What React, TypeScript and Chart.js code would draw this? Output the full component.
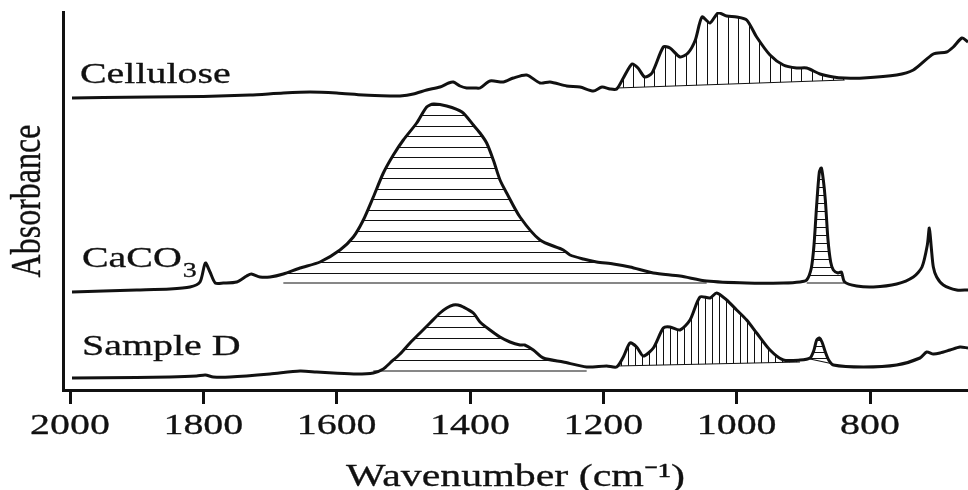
import React, { useEffect, useRef } from "react";
import { Chart, registerables } from "chart.js";

Chart.register(...registerables);

// ---------- data (wavenumber in cm-1, absorbance in arbitrary stacked units) ----------
const celluloseWavenumber = [
  1997, 1950, 1880, 1800, 1730, 1680, 1640, 1600, 1560, 1520, 1505, 1485, 1465, 1445, 1432, 1425,
  1415, 1405, 1393, 1385, 1370, 1350, 1335, 1315, 1295, 1280, 1255, 1235, 1215, 1202, 1190, 1180,
  1170, 1157, 1148, 1138, 1127, 1110, 1100, 1085, 1073, 1062, 1052, 1040, 1028, 1015, 1000, 985,
  970, 950, 930, 910, 895, 875, 855, 838, 810, 760, 735, 705, 685, 675, 662, 653,
];
const celluloseAbsorbance = [
  2.92, 2.925, 2.93, 2.935, 2.95, 2.97, 2.98, 2.97, 2.95, 2.94, 2.94, 2.96, 3.0, 3.03, 3.07, 3.08,
  3.04, 3.02, 3.02, 3.02, 3.09, 3.08, 3.12, 3.15, 3.07, 3.08, 3.04, 3.03, 2.99, 3.03, 3.01, 3.01,
  3.12, 3.26, 3.22, 3.13, 3.17, 3.43, 3.42, 3.33, 3.37, 3.5, 3.73, 3.67, 3.77, 3.74, 3.73, 3.7,
  3.53, 3.35, 3.25, 3.22, 3.22, 3.16, 3.13, 3.12, 3.12, 3.15, 3.2, 3.36, 3.38, 3.43, 3.52, 3.48,
];

const caco3Wavenumber = [
  1997, 1950, 1900, 1850, 1820, 1805, 1797, 1790, 1782, 1770, 1750, 1735, 1728, 1715, 1700, 1680,
  1655, 1625, 1595, 1575, 1560, 1545, 1530, 1515, 1500, 1480, 1465, 1455, 1435, 1412, 1395, 1385,
  1375, 1365, 1355, 1345, 1325, 1295, 1260, 1250, 1230, 1210, 1185, 1160, 1125, 1085, 1045, 985,
  930, 905, 895, 888, 884, 880, 876, 873, 870, 867, 863, 859, 855, 848, 843, 838,
  820, 795, 760, 735, 722, 714, 711, 708, 705, 700, 690, 670, 653,
];
const caco3Absorbance = [
  0.98, 0.99, 1.0, 1.01, 1.03, 1.08, 1.27, 1.18, 1.07, 1.07, 1.08, 1.14, 1.16, 1.13, 1.13, 1.16,
  1.22, 1.28, 1.4, 1.53, 1.7, 1.93, 2.17, 2.35, 2.5, 2.67, 2.83, 2.86, 2.84, 2.78, 2.65, 2.57,
  2.47, 2.3, 2.1, 1.97, 1.73, 1.5, 1.4, 1.35, 1.31, 1.28, 1.26, 1.23, 1.17, 1.14, 1.09, 1.07,
  1.07, 1.08, 1.1, 1.22, 1.45, 1.85, 2.18, 2.22, 2.1, 1.9, 1.5, 1.28, 1.2, 1.17, 1.18, 1.08,
  1.04, 1.03, 1.06, 1.13, 1.23, 1.45, 1.62, 1.42, 1.23, 1.13, 1.05, 1.0, 1.0,
];

const sampleDWavenumber = [
  1997, 1900, 1850, 1810, 1797, 1785, 1760, 1700, 1655, 1630, 1605, 1570, 1545, 1530, 1520, 1505,
  1490, 1475, 1460, 1445, 1435, 1425, 1418, 1410, 1395, 1385, 1370, 1355, 1340, 1325, 1318, 1305,
  1290, 1260, 1225, 1195, 1180, 1170, 1160, 1150, 1140, 1125, 1110, 1100, 1085, 1070, 1055, 1040,
  1030, 1015, 1000, 985, 970, 950, 930, 905, 890, 884, 880, 876, 872, 867, 862, 855,
  810, 760, 725, 715, 705, 695, 680, 665, 653,
];
const sampleDAbsorbance = [
  0.12, 0.125, 0.13, 0.14, 0.15, 0.13, 0.13, 0.16, 0.19, 0.18, 0.17, 0.16, 0.17, 0.21, 0.27, 0.36,
  0.47, 0.57, 0.67, 0.77, 0.82, 0.85, 0.85, 0.83, 0.77, 0.68, 0.6, 0.53, 0.48, 0.45, 0.45, 0.4,
  0.32, 0.28, 0.23, 0.24, 0.23, 0.33, 0.47, 0.43, 0.34, 0.42, 0.62, 0.63, 0.6, 0.7, 0.93, 0.92,
  0.97, 0.9, 0.8, 0.7, 0.57, 0.4, 0.3, 0.3, 0.32, 0.4, 0.5, 0.52, 0.48, 0.38, 0.3, 0.25,
  0.23, 0.25, 0.32, 0.38, 0.36, 0.37, 0.4, 0.43, 0.42,
];

const seriesNames = ["Cellulose", "CaCO3", "Sample D"];
const tickValues = [2000, 1800, 1600, 1400, 1200, 1000, 800];

// hatched integration regions: series index, wavenumber range, baseline absorbance at both ends
const hatchRegions = [
  { series: 0, from: 1180, to: 838, base: [3.02, 3.1], dir: "v", spacing: 10.5 },
  { series: 1, from: 1680, to: 1045, base: [1.07, 1.07], dir: "h", spacing: 10.5 },
  { series: 1, from: 895, to: 838, base: [1.07, 1.07], dir: "h", spacing: 8 },
  { series: 2, from: 1545, to: 1225, base: [0.19, 0.19], dir: "h", spacing: 11 },
  { series: 2, from: 1180, to: 905, base: [0.24, 0.28], dir: "v", spacing: 7 },
  { series: 2, from: 890, to: 855, base: [0.31, 0.26], dir: "h", spacing: 6 },
];

const INK = "#111";
const SERIF = '"Liberation Serif", "Times New Roman", serif';
const TEXT_STRETCH = 1.33;

function toPoints(wn: number[], ab: number[]) {
  return wn.map((w, i) => ({ x: w, y: ab[i] }));
}

// text in the reference is horizontally widened; widen every glyph run about its anchor
const stretchTextPlugin = {
  id: "stretchText",
  beforeDraw(chart: any) {
    const ctx: any = chart.ctx;
    if (ctx.__origFillText) return;
    const orig = ctx.fillText;
    ctx.__origFillText = orig;
    ctx.fillText = function (text: string, x: number, y: number, maxWidth?: number) {
      const m = this.getTransform();
      const p = m.transformPoint(new DOMPoint(x, y));
      const s = new DOMMatrix()
        .translate(p.x, p.y)
        .scale(TEXT_STRETCH, 1)
        .translate(-p.x, -p.y)
        .multiply(m);
      this.setTransform(s);
      if (maxWidth !== undefined) orig.call(this, text, x, y, maxWidth * 2);
      else orig.call(this, text, x, y);
      const lw = this.lineWidth;
      const ss = this.strokeStyle;
      const lj = this.lineJoin;
      this.lineWidth = 0.3;
      this.strokeStyle = this.fillStyle;
      this.lineJoin = "round";
      this.strokeText(text, x, y);
      this.lineWidth = lw;
      this.strokeStyle = ss;
      this.lineJoin = lj;
      this.setTransform(m);
    };
  },
  afterDraw(chart: any) {
    const ctx: any = chart.ctx;
    if (ctx.__origFillText) {
      ctx.fillText = ctx.__origFillText;
      delete ctx.__origFillText;
    }
  },
};

const hatchPlugin = {
  id: "hatch",
  beforeDatasetsDraw(chart: any) {
    const ctx: CanvasRenderingContext2D = chart.ctx;
    const xs = chart.scales.x;
    const ys = chart.scales.y;
    for (const r of hatchRegions) {
      const ds = chart.data.datasets[r.series];
      const data = ds.data as { x: number; y: number }[];
      const i0 = data.findIndex((p) => p.x <= r.from);
      let i1 = -1;
      for (let i = 0; i < data.length; i++) if (data[i].x >= r.to) i1 = i;
      if (i0 < 0 || i1 <= i0) continue;
      const meta = chart.getDatasetMeta(r.series);
      const line = meta.dataset;
      const xa = xs.getPixelForValue(data[i0].x);
      const xb = xs.getPixelForValue(data[i1].x);
      const ya = ys.getPixelForValue(r.base[0]);
      const yb = ys.getPixelForValue(r.base[1]);

      ctx.save();
      ctx.beginPath();
      let ok = false;
      try {
        line.path(ctx, i0, i1 - i0 + 1);
        ok = true;
      } catch (e) {
        ok = false;
      }
      if (!ok) {
        ctx.beginPath();
        for (let i = i0; i <= i1; i++) {
          const px = xs.getPixelForValue(data[i].x);
          const py = ys.getPixelForValue(data[i].y);
          if (i === i0) ctx.moveTo(px, py);
          else ctx.lineTo(px, py);
        }
      }
      ctx.lineTo(xb, yb);
      ctx.lineTo(xa, ya);
      ctx.closePath();
      ctx.clip();

      ctx.strokeStyle = INK;
      ctx.lineWidth = 1;
      ctx.beginPath();
      const top = chart.chartArea.top;
      if (r.dir === "v") {
        for (let x = xa + r.spacing * 0.6; x < xb; x += r.spacing) {
          const px = Math.round(x) + 0.5;
          ctx.moveTo(px, top);
          ctx.lineTo(px, Math.max(ya, yb) + 2);
        }
      } else {
        const yBase = Math.max(ya, yb);
        for (let y = yBase - r.spacing; y > top; y -= r.spacing) {
          const py = Math.round(y) + 0.5;
          ctx.moveTo(xa - 2, py);
          ctx.lineTo(xb + 2, py);
        }
      }
      ctx.stroke();
      ctx.restore();

      ctx.save();
      ctx.strokeStyle = INK;
      ctx.lineWidth = 1.2;
      ctx.beginPath();
      ctx.moveTo(xa, ya);
      ctx.lineTo(xb, yb);
      ctx.stroke();
      ctx.restore();
    }
  },
};

const seriesLabelPlugin = {
  id: "seriesLabels",
  afterDatasetsDraw(chart: any) {
    const ctx: CanvasRenderingContext2D = chart.ctx;
    const xs = chart.scales.x;
    const ys = chart.scales.y;
    ctx.save();
    ctx.fillStyle = INK;
    ctx.textAlign = "left";
    ctx.textBaseline = "alphabetic";
    ctx.font = `30px ${SERIF}`;
    ctx.fillText(seriesNames[0], xs.getPixelForValue(1985), ys.getPixelForValue(3.07));
    const cx = xs.getPixelForValue(1982);
    const cy = ys.getPixelForValue(1.23);
    ctx.fillText("CaCO", cx, cy);
    const w = ctx.measureText("CaCO").width * TEXT_STRETCH;
    ctx.font = `21px ${SERIF}`;
    ctx.fillText("3", cx + w + 1, ys.getPixelForValue(1.13));
    ctx.font = `30px ${SERIF}`;
    ctx.fillText(seriesNames[2], xs.getPixelForValue(1982), ys.getPixelForValue(0.35));
    ctx.restore();
  },
};

export default function App() {
  const ref = useRef<HTMLCanvasElement>(null);

  useEffect(() => {
    if (!ref.current) return;
    const lineStyle = {
      borderColor: INK,
      borderWidth: 3,
      pointRadius: 0,
      tension: 0.25,
      fill: false,
    };
    const chart = new Chart(ref.current, {
      type: "line",
      data: {
        datasets: [
          { label: seriesNames[0], data: toPoints(celluloseWavenumber, celluloseAbsorbance), ...lineStyle },
          { label: seriesNames[1], data: toPoints(caco3Wavenumber, caco3Absorbance), ...lineStyle },
          { label: seriesNames[2], data: toPoints(sampleDWavenumber, sampleDAbsorbance), ...lineStyle },
        ],
      },
      options: {
        animation: false,
        responsive: false,
        layout: { padding: { top: 12, right: 0, bottom: 0, left: 0 } },
        plugins: {
          legend: { display: false },
          tooltip: { enabled: false },
        },
        scales: {
          x: {
            type: "linear",
            reverse: true,
            min: 653,
            max: 2010.5,
            afterBuildTicks: (scale: any) => {
              scale.ticks = tickValues.map((v) => ({ value: v }));
            },
            afterFit: (scale: any) => {
              scale.height = 100;
            },
            grid: {
              display: true,
              drawOnChartArea: false,
              drawTicks: true,
              tickLength: 14,
              tickWidth: 3,
              tickColor: INK,
              color: INK,
            },
            border: { display: true, color: INK, width: 3 },
            ticks: {
              autoSkip: false,
              maxRotation: 0,
              color: INK,
              padding: 4,
              font: { family: SERIF, size: 30, lineHeight: 1.2 },
              callback: (v: any) => String(v),
            },
            title: {
              display: true,
              text: "Wavenumber (cm⁻¹)",
              color: INK,
              font: { family: SERIF, size: 31.5, lineHeight: 1 },
              padding: { top: 0, bottom: -3 },
            },
          },
          y: {
            type: "linear",
            min: 0,
            max: 3.78,
            afterFit: (scale: any) => {
              scale.width = 63;
            },
            grid: { display: false, drawTicks: false },
            border: { display: true, color: INK, width: 3 },
            ticks: { display: false },
            title: {
              display: true,
              text: "Absorbance",
              color: INK,
              font: { family: SERIF, size: 32, lineHeight: 1 },
              padding: { top: 12.5, bottom: 0 },
            },
          },
        },
      },
      plugins: [stretchTextPlugin, hatchPlugin, seriesLabelPlugin],
    } as any);
    return () => chart.destroy();
  }, []);

  return (
    <div style={{ position: "fixed", left: 0, top: 0, width: 968, height: 490, background: "#fff" }}>
      <canvas ref={ref} width={968} height={490} style={{ display: "block", width: 968, height: 490 }} />
    </div>
  );
}
